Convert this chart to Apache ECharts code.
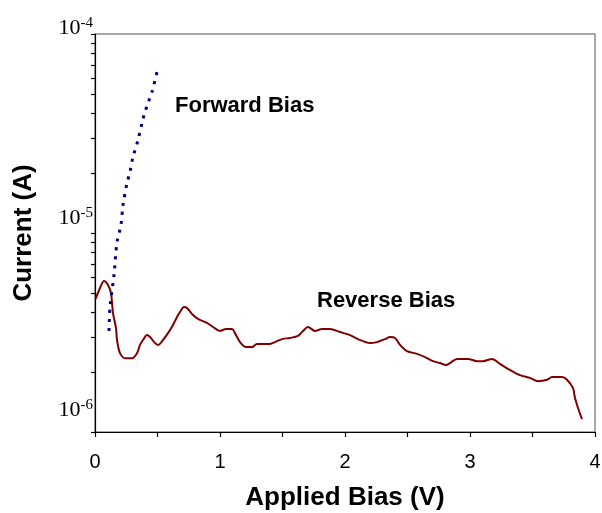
<!DOCTYPE html>
<html>
<head>
<meta charset="utf-8">
<script src="https://cdn.jsdelivr.net/npm/echarts@6/dist/echarts.min.js"></script>
<style>
html,body{margin:0;padding:0;background:#fff;}
#chart{width:602px;height:513px;}
</style>
</head>
<body>
<div id="chart"></div>
<script>
// Reverse bias curve: applied bias (V) and current (A)
const reverseV = [0.005,0.04,0.072,0.104,0.128,0.144,0.168,0.176,0.2,0.24,0.296,0.336,0.36,0.384,0.416,0.44,0.48,0.504,0.544,0.584,0.624,0.656,0.68,0.712,0.736,0.776,0.824,0.896,0.944,1.0,1.048,1.096,1.12,1.16,1.208,1.256,1.296,1.4,1.44,1.496,1.56,1.624,1.664,1.704,1.76,1.816,1.88,1.96,2.04,2.104,2.2,2.256,2.32,2.36,2.4,2.44,2.496,2.576,2.64,2.704,2.76,2.808,2.84,2.896,2.984,3.056,3.104,3.176,3.24,3.32,3.4,3.48,3.544,3.616,3.656,3.736,3.776,3.824,3.84,3.864,3.896];
const reverseI = [4.66e-6,5.29e-6,5.74e-6,5.48e-6,4.99e-6,3.96e-6,3.33e-6,2.90e-6,2.49e-6,2.35e-6,2.35e-6,2.49e-6,2.74e-6,2.90e-6,3.07e-6,3.00e-6,2.80e-6,2.74e-6,2.90e-6,3.14e-6,3.45e-6,3.78e-6,4.01e-6,4.25e-6,4.20e-6,3.92e-6,3.70e-6,3.53e-6,3.37e-6,3.22e-6,3.29e-6,3.29e-6,3.14e-6,2.83e-6,2.67e-6,2.67e-6,2.77e-6,2.77e-6,2.83e-6,2.93e-6,2.97e-6,3.04e-6,3.22e-6,3.37e-6,3.22e-6,3.29e-6,3.29e-6,3.18e-6,3.07e-6,2.93e-6,2.80e-6,2.83e-6,2.93e-6,3.00e-6,2.97e-6,2.74e-6,2.55e-6,2.47e-6,2.38e-6,2.27e-6,2.22e-6,2.17e-6,2.22e-6,2.33e-6,2.33e-6,2.27e-6,2.27e-6,2.33e-6,2.20e-6,2.05e-6,1.93e-6,1.87e-6,1.80e-6,1.83e-6,1.89e-6,1.89e-6,1.83e-6,1.66e-6,1.48e-6,1.32e-6,1.16e-6];
// Forward bias curve
const forwardV = [0.112,0.12,0.152,0.176,0.208,0.224,0.256,0.28,0.304,0.344,0.376,0.4,0.424,0.456,0.496];
const forwardI = [3.22e-6,4.25e-6,6.15e-6,9.0e-6,1.10e-5,1.38e-5,1.78e-5,2.03e-5,2.41e-5,2.93e-5,3.57e-5,4.06e-5,4.50e-5,5.11e-5,6.44e-5];
// Axis ticks and labels
const xTickValues = [0,0.5,1,1.5,2,2.5,3,3.5,4];
const xLabelValues = [0,1,2,3,4];
const yTickValues = [1e-6,2e-6,3e-6,4e-6,5e-6,6e-6,7e-6,8e-6,9e-6,1e-5,2e-5,3e-5,4e-5,5e-5,6e-5,7e-5,8e-5,9e-5,1e-4];
const yLabelValues = [1e-6,1e-5,1e-4];
const labels = ['Forward Bias','Reverse Bias'];

const zip = (a,b) => a.map((v,i)=>[v,b[i]]);
const chart = echarts.init(document.getElementById('chart'));
const sans = 'Liberation Sans';
const serif = 'Liberation Serif';
chart.setOption({
  animation:false,
  grid:{left:95,top:34,right:7,bottom:81,containLabel:false,outerBoundsMode:'none',
    show:true,borderColor:'#8a8a8a',borderWidth:1.5},
  xAxis:{type:'value',min:0,max:4,
    name:'Applied Bias (V)',nameLocation:'middle',nameGap:53,
    nameTextStyle:{fontFamily:sans,fontWeight:'bold',fontSize:26,color:'#000'},
    axisLine:{show:true,lineStyle:{color:'#000',width:1.2}},
    axisTick:{show:true,customValues:xTickValues,length:5,inside:false,lineStyle:{color:'#000',width:1.2}},
    axisLabel:{customValues:xLabelValues,margin:20,fontFamily:sans,fontSize:20,color:'#000'},
    splitLine:{show:false}},
  yAxis:{type:'log',logBase:10,min:1e-6,max:1e-4,
    name:'Current (A)',nameLocation:'middle',nameGap:58,nameRotate:90,
    nameTextStyle:{fontFamily:sans,fontWeight:'bold',fontSize:26,color:'#000'},
    axisLine:{show:true,lineStyle:{color:'#000',width:1.2}},
    axisTick:{show:true,customValues:yTickValues,length:4,inside:false,lineStyle:{color:'#000',width:1.2}},
    axisLabel:{customValues:yLabelValues,margin:2,
      formatter:function(v){
        const e = Math.round(Math.log10(v));
        return '{b|10}{s|' + e + '}\n{g' + (-e) + '| }';
      },
      rich:{
        b:{fontFamily:serif,fontSize:22,lineHeight:24,color:'#000'},
        s:{fontFamily:serif,fontSize:15,lineHeight:10,verticalAlign:'top',color:'#000'},
        g4:{fontSize:1,lineHeight:12},
        g5:{fontSize:1,lineHeight:30},
        g6:{fontSize:1,lineHeight:44}
      }},
    splitLine:{show:false}},
  graphic:[
    {type:'text',left:175,top:95,style:{text:labels[0],font:'bold 22px "Liberation Sans"',fill:'#000'}},
    {type:'text',left:317,top:290,style:{text:labels[1],font:'bold 22px "Liberation Sans"',fill:'#000'}}
  ],
  series:[
    {name:labels[1],type:'line',data:zip(reverseV,reverseI),showSymbol:false,smooth:0.3,
      lineStyle:{color:'#800000',width:2}},
    {name:labels[0],type:'line',data:zip(forwardV,forwardI),showSymbol:false,smooth:0.3,
      lineStyle:{color:'#000080',width:3,type:[3,6]}}
  ]
});
</script>
</body>
</html>
